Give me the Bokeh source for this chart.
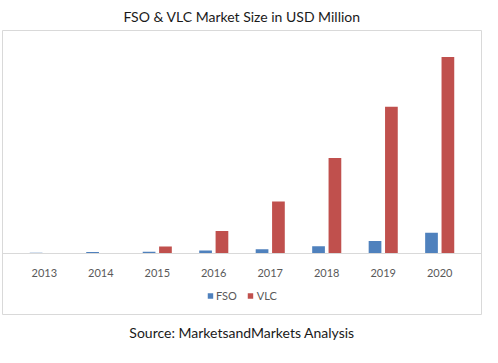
from bokeh.plotting import figure
from bokeh.models import ColumnDataSource, FactorRange, Range1d, Legend, LegendItem, Title
from bokeh.transform import dodge
from bokeh.embed import file_html
from bokeh.resources import INLINE

years = ["2013", "2014", "2015", "2016", "2017", "2018", "2019", "2020"]
fso = [1.3, 2.0, 2.3, 3.5, 4.7, 7.7, 13.0, 21.3]
vlc = [0.0, 0.0, 7.5, 23.0, 52.7, 96.7, 148.3, 198.3]
title_text = "FSO & VLC Market Size in USD Million"
source_text = "Source: MarketsandMarkets Analysis"

FONT = "Lato"
source = ColumnDataSource(dict(year=years, fso=fso, vlc=vlc))

p = figure(
    width=482, height=347,
    x_range=FactorRange(factors=years, range_padding=0.24, range_padding_units="absolute"),
    y_range=Range1d(-61, 225),
    output_backend="svg", toolbar_location=None,
    min_border_left=2, min_border_right=1, min_border_top=29, min_border_bottom=32,
)

p.title.text = title_text
p.title.align = "center"
p.title.text_font = FONT
p.title.text_font_size = "14px"
p.title.text_font_style = "normal"
p.title.text_color = "#1a1a1a"
p.title.standoff = 11

r1 = p.vbar(x=dodge("year", -0.145, range=p.x_range), top="fso", width=0.225,
            source=source, fill_color="#4F81BD", line_color=None)
r2 = p.vbar(x=dodge("year", 0.145, range=p.x_range), top="vlc", width=0.225,
            source=source, fill_color="#C0504D", line_color=None)

p.add_layout(Title(text=source_text, align="center",
                   text_font=FONT, text_font_size="14px", text_font_style="normal",
                   text_color="#1a1a1a", standoff=14), "below")

p.xgrid.visible = False
p.ygrid.visible = False
p.yaxis.visible = False
p.xaxis.fixed_location = 0
p.xaxis.axis_line_color = "#d9d9d9"
p.xaxis.major_tick_line_color = None
p.xaxis.minor_tick_line_color = None
p.xaxis.major_label_text_font = FONT
p.xaxis.major_label_text_font_size = "11px"
p.xaxis.major_label_text_color = "#595959"
p.xaxis.major_label_standoff = 9

p.outline_line_color = "#d9d9d9"
p.outline_line_width = 1

legend = Legend(items=[LegendItem(label="FSO", renderers=[r1]),
                       LegendItem(label="VLC", renderers=[r2])],
                location="bottom_center", orientation="horizontal",
                glyph_width=7, glyph_height=7, label_standoff=3, spacing=10,
                padding=0, margin=12, border_line_color=None, background_fill_alpha=0,
                label_text_font=FONT, label_text_font_size="11px",
                label_text_color="#595959", label_height=12)
p.add_layout(legend)

open("out.html", "w").write(file_html(p, INLINE))
